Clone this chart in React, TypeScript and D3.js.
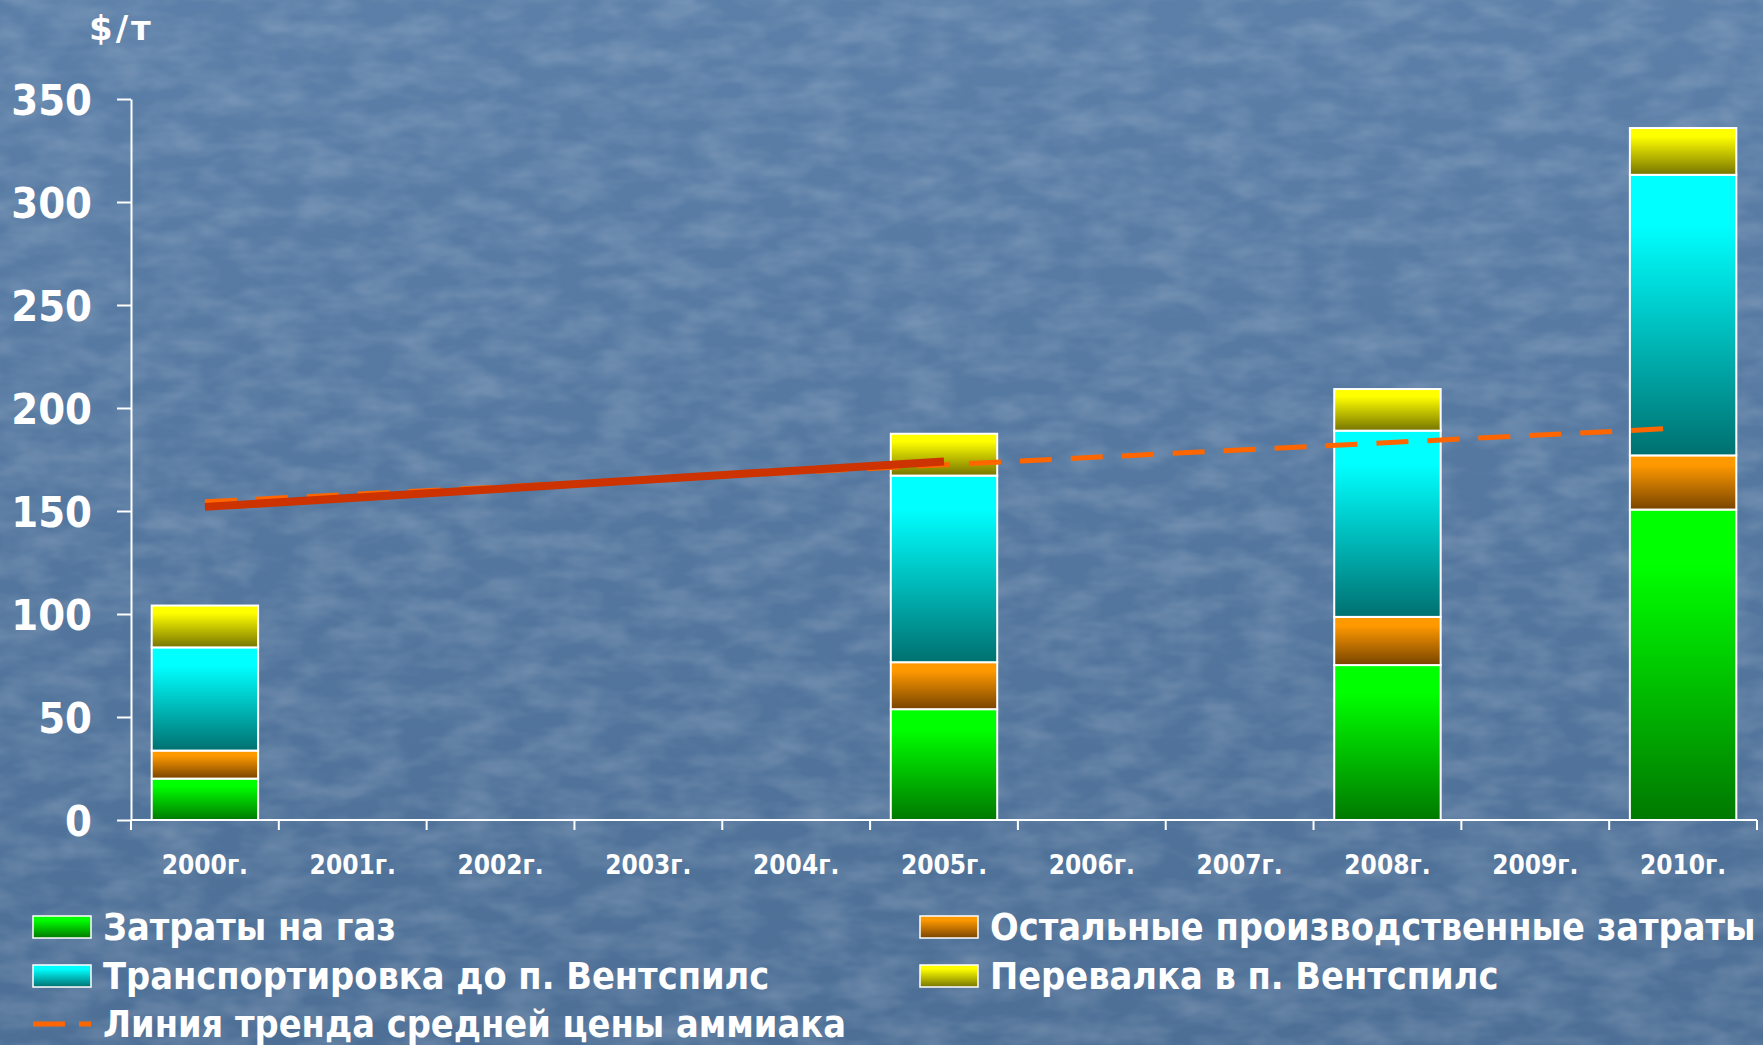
import React, { useEffect, useRef } from "react";
import * as d3 from "d3";

const categories = ["2000г.", "2001г.", "2002г.", "2003г.", "2004г.", "2005г.", "2006г.", "2007г.", "2008г.", "2009г.", "2010г."];
const barYears = ["2000г.", "2005г.", "2008г.", "2010г."];
const gasCost = [20.1, 53.8, 75.2, 150.7];
const otherCost = [13.6, 22.8, 23.4, 26.3];
const transportCost = [50.1, 90.6, 90.4, 136.2];
const transshipCost = [20.3, 20.3, 20.2, 22.7];
const priceYears = ["2000г.", "2005г."];
const priceValues = [152, 174];
const trendYears = [2000, 2009.9];
const trendValues = [154.5, 190];
const yTicks = [0, 50, 100, 150, 200, 250, 300, 350];
const seriesNames = ["Затраты на газ", "Остальные производственные затраты", "Транспортировка до п. Вентспилс", "Перевалка в п. Вентспилс"];
const trendName = "Линия тренда средней цены аммиака";

const App = () => {
  const svgRef = useRef(null);

  useEffect(() => {
    const width = 1763;
    const height = 1045;
    const margin = { top: 99, left: 131, right: 6, bottom: 225 };
    const font = "'DejaVu Sans Condensed', 'DejaVu Sans', sans-serif";

    const svg = d3.select(svgRef.current)
      .attr("width", width)
      .attr("height", height);
    svg.selectAll("*").remove();

    const defs = svg.append("defs");
    const bg = defs.append("linearGradient").attr("id", "bg").attr("x1", 0).attr("y1", 0).attr("x2", 0).attr("y2", 1);
    bg.append("stop").attr("offset", "0%").attr("stop-color", "#5b7fa8");
    bg.append("stop").attr("offset", "100%").attr("stop-color", "#4d6f96");

    // faint texture like the slide background
    const filt = defs.append("filter").attr("id", "tex").attr("x", 0).attr("y", 0).attr("width", "100%").attr("height", "100%");
    filt.append("feTurbulence").attr("type", "fractalNoise").attr("baseFrequency", "0.02 0.045").attr("numOctaves", 3).attr("seed", 7);
    filt.append("feColorMatrix").attr("type", "matrix")
      .attr("values", "0 0 0 0 1  0 0 0 0 1  0 0 0 0 1  0 0 0 0.3 -0.1");

    // bar gradients: top colour -> dark bottom colour
    const grads = [
      { id: "g-gas", top: "#00ff00", bottom: "#007800" },
      { id: "g-other", top: "#ff9900", bottom: "#784400" },
      { id: "g-trans", top: "#00ffff", bottom: "#007070" },
      { id: "g-ship", top: "#ffff00", bottom: "#767400" },
    ];
    grads.forEach(g => {
      const lg = defs.append("linearGradient").attr("id", g.id).attr("x1", 0).attr("y1", 0).attr("x2", 0).attr("y2", 1);
      lg.append("stop").attr("offset", "0%").attr("stop-color", g.top);
      lg.append("stop").attr("offset", "18%").attr("stop-color", g.top);
      lg.append("stop").attr("offset", "100%").attr("stop-color", g.bottom);
    });

    svg.append("rect").attr("width", width).attr("height", height).attr("fill", "url(#bg)");
    svg.append("rect").attr("width", width).attr("height", height).attr("filter", "url(#tex)");

    const xScale = d3.scaleBand()
      .domain(categories)
      .range([margin.left, width - margin.right])
      .paddingInner(0.28)
      .paddingOuter(0.14);

    const yearScale = d3.scaleLinear()
      .domain([1999.5, 2010.5])
      .range([margin.left, width - margin.right]);

    const yScale = d3.scaleLinear()
      .domain([0, 350])
      .range([height - margin.bottom, margin.top]);

    // y axis
    const yAxis = svg.append("g")
      .attr("transform", `translate(${margin.left},0)`)
      .call(d3.axisLeft(yScale).tickValues(yTicks).tickSize(14).tickPadding(25).tickSizeOuter(0));
    yAxis.select(".domain").attr("stroke", "#ffffff").attr("stroke-width", 2);
    yAxis.selectAll(".tick line").attr("stroke", "#ffffff").attr("stroke-width", 2);
    yAxis.selectAll(".tick text")
      .attr("fill", "#ffffff")
      .attr("font-family", font)
      .attr("font-weight", "bold")
      .attr("font-size", 43)
      .attr("dy", "0.36em");

    // x axis with ticks on category boundaries
    const xAxisG = svg.append("g").attr("transform", `translate(0,${height - margin.bottom})`);
    xAxisG.append("line")
      .attr("x1", margin.left).attr("x2", width - margin.right)
      .attr("stroke", "#ffffff").attr("stroke-width", 2);
    const step = xScale.step();
    xAxisG.selectAll(".xtick")
      .data(d3.range(categories.length + 1))
      .join("line")
      .attr("class", "xtick")
      .attr("x1", i => margin.left + i * step)
      .attr("x2", i => margin.left + i * step)
      .attr("y1", 0).attr("y2", 10)
      .attr("stroke", "#ffffff").attr("stroke-width", 2);
    xAxisG.selectAll(".xlabel")
      .data(categories)
      .join("text")
      .attr("class", "xlabel")
      .attr("x", d => xScale(d) + xScale.bandwidth() / 2)
      .attr("y", 54)
      .attr("text-anchor", "middle")
      .attr("fill", "#ffffff")
      .attr("font-family", font)
      .attr("font-weight", "bold")
      .attr("font-size", 26)
      .text(d => d);

    // unit label
    svg.append("text")
      .attr("x", 89).attr("y", 40)
      .attr("fill", "#ffffff")
      .attr("font-family", "'DejaVu Sans', sans-serif")
      .attr("font-weight", "bold")
      .attr("font-size", 34)
      .attr("letter-spacing", 3)
      .text("$/т");

    // stacked bars
    const rows = barYears.map((year, i) => ({
      year,
      gas: gasCost[i],
      other: otherCost[i],
      trans: transportCost[i],
      ship: transshipCost[i],
    }));
    const keys = ["gas", "other", "trans", "ship"];
    const stacked = d3.stack().keys(keys)(rows);

    svg.selectAll(".layer")
      .data(stacked)
      .join("g")
      .attr("class", "layer")
      .attr("fill", (d, i) => `url(#${grads[i].id})`)
      .selectAll("rect")
      .data(d => d)
      .join("rect")
      .attr("x", d => xScale(d.data.year))
      .attr("y", d => yScale(d[1]))
      .attr("width", xScale.bandwidth())
      .attr("height", d => yScale(d[0]) - yScale(d[1]))
      .attr("stroke", "#ffffff")
      .attr("stroke-width", 2);

    // dashed trend line
    const trendPts = trendYears.map((y, i) => [yearScale(y), yScale(trendValues[i])]);
    svg.append("path")
      .attr("d", d3.line()(trendPts))
      .attr("fill", "none")
      .attr("stroke", "#ff6600")
      .attr("stroke-width", 5)
      .attr("stroke-dasharray", "32 19");

    // actual price line
    const pricePts = priceYears.map((y, i) => [xScale(y) + xScale.bandwidth() / 2, yScale(priceValues[i])]);
    svg.append("path")
      .attr("d", d3.line()(pricePts))
      .attr("fill", "none")
      .attr("stroke", "#cc3300")
      .attr("stroke-width", 8);

    // legend
    const legendItems = [
      { name: seriesNames[0], grad: grads[0].id, x: 33, y: 927 },
      { name: seriesNames[1], grad: grads[1].id, x: 920, y: 927 },
      { name: seriesNames[2], grad: grads[2].id, x: 33, y: 976 },
      { name: seriesNames[3], grad: grads[3].id, x: 920, y: 976 },
    ];
    const lg = svg.append("g");
    legendItems.forEach(it => {
      lg.append("rect")
        .attr("x", it.x).attr("y", it.y - 11)
        .attr("width", 58).attr("height", 22)
        .attr("fill", `url(#${it.grad})`)
        .attr("stroke", "#ffffff").attr("stroke-width", 1.5);
      lg.append("text")
        .attr("x", it.x + 70).attr("y", it.y + 13)
        .attr("fill", "#ffffff")
        .attr("font-family", font)
        .attr("font-weight", "bold")
        .attr("font-size", 37.5)
        .text(it.name);
    });
    lg.append("line")
      .attr("x1", 33).attr("x2", 91)
      .attr("y1", 1024).attr("y2", 1024)
      .attr("stroke", "#ff6600").attr("stroke-width", 5)
      .attr("stroke-dasharray", "32 14");
    lg.append("text")
      .attr("x", 103).attr("y", 1037)
      .attr("fill", "#ffffff")
      .attr("font-family", font)
      .attr("font-weight", "bold")
      .attr("font-size", 37.5)
      .text(trendName);
  }, []);

  return <svg ref={svgRef} style={{ position: "absolute", left: 0, top: 0, display: "block" }} />;
};

export default App;
